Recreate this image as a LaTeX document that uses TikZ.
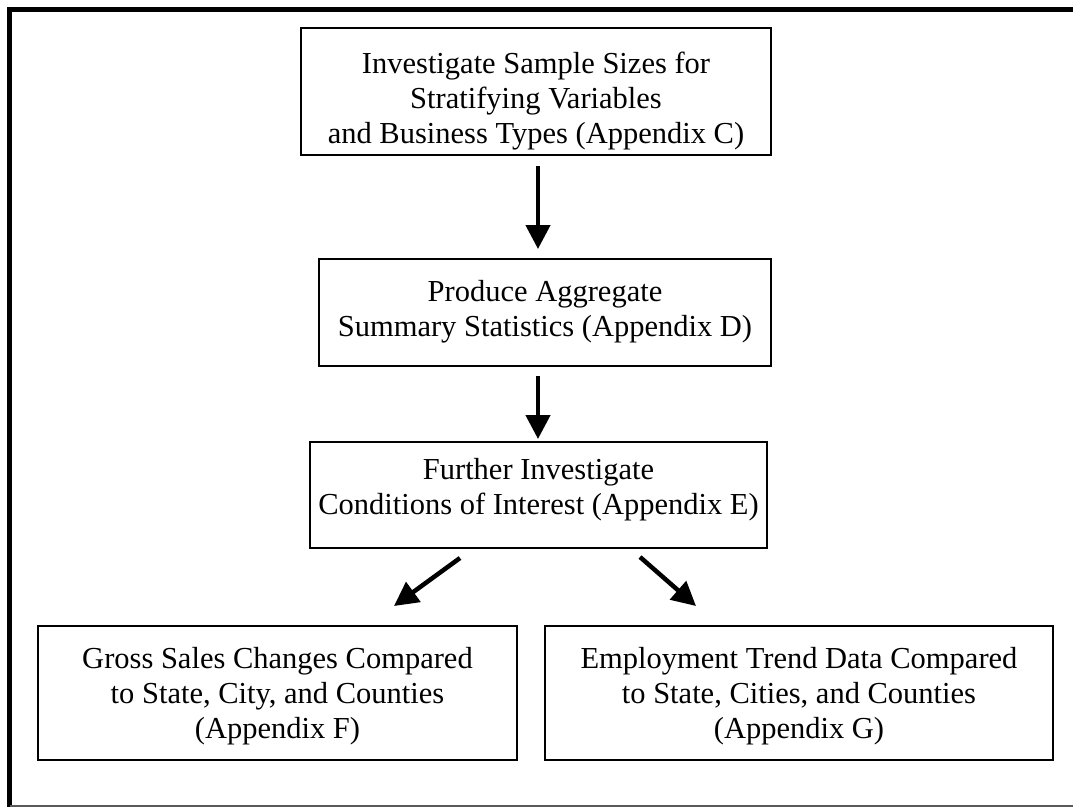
\documentclass[tikz,border=0pt]{standalone}
\usepackage{fontspec}
\setmainfont{Liberation Serif}
\usetikzlibrary{arrows.meta}
\begin{document}
\begin{tikzpicture}[x=1pt,y=-1pt,
  box/.style={draw=black,line width=1.3pt,rectangle,inner sep=0pt},
  txt/.style={align=center,inner sep=0pt,font=\fontsize{30.5}{35}\selectfont},
  flow/.style={line width=4.5pt,-{Triangle[length=24pt,width=24pt]}}]
\useasboundingbox (0,0) rectangle (1073,807);
% frame
\draw[line width=5pt] (1073,9.5) -- (9.5,9.5) -- (9.5,807);
\draw[line width=1.2pt,gray!70!black] (9.5,806) -- (1073,806);
% boxes
\node[box,minimum width=470pt,minimum height=127pt] (b1) at (536,91.5) {};
\node[txt] (t1) at ([yshift=-10pt]b1.center)
  {Investigate Sample Sizes for\\Stratifying Variables\\and Business Types (Appendix C)};
\node[box,minimum width=452pt,minimum height=107pt] (b2) at (545,312.5) {};
\node[txt] (t2) at ([yshift=1pt]b2.center)
  {Produce Aggregate\\Summary Statistics (Appendix D)};
\node[box,minimum width=457pt,minimum height=106pt] (b3) at (538.5,495) {};
\node[txt] (t3) at ([yshift=5pt]b3.center)
  {Further Investigate\\Conditions of Interest (Appendix E)};
\node[box,minimum width=479pt,minimum height=134pt] (b4) at (277.5,693) {};
\node[txt] (t4) at ([yshift=-3pt]b4.center)
  {Gross Sales Changes Compared\\to State, City, and Counties\\(Appendix F)};
\node[box,minimum width=508pt,minimum height=134pt] (b5) at (799,693) {};
\node[txt] (t5) at ([yshift=-3pt]b5.center)
  {Employment Trend Data Compared\\to State, Cities, and Counties\\(Appendix G)};
% arrows
\coordinate (a1s) at (538,166);
\coordinate (a1e) at (538,249);
\coordinate (a2s) at (538,376);
\coordinate (a2e) at (538,439);
\coordinate (a3s) at (460,558);
\coordinate (a3e) at (394,606);
\coordinate (a4s) at (640,557);
\coordinate (a4e) at (696,606);
\draw[flow] (a1s) -- (a1e);
\draw[flow] (a2s) -- (a2e);
\draw[flow] (a3s) -- (a3e);
\draw[flow] (a4s) -- (a4e);
\end{tikzpicture}
\end{document}
